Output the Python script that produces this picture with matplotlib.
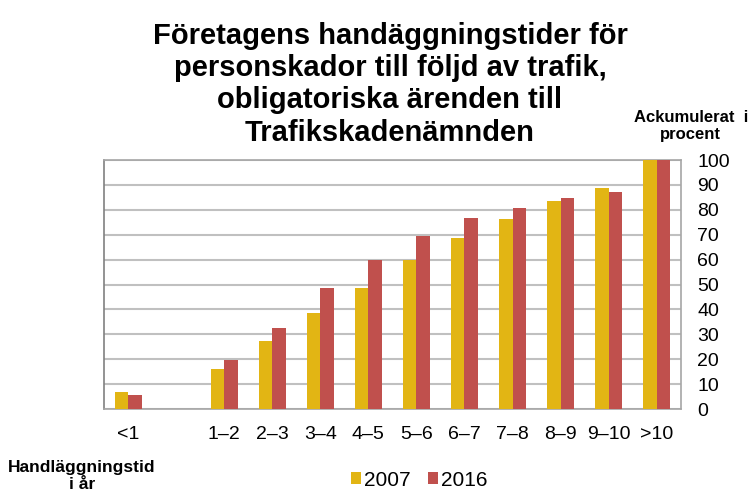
import matplotlib.pyplot as plt
import numpy as np

plt.rcParams['font.family'] = ['Liberation Sans', 'DejaVu Sans']

# kategorier (handläggningstid i år), andra kategorin saknar etikett
kategorier = ['<1', '', '1–2', '2–3', '3–4', '4–5', '5–6', '6–7', '7–8', '8–9', '9–10', '>10']
ar_2007 = [6.8, 0, 16.2, 27.3, 38.7, 48.6, 59.8, 68.7, 76.4, 83.7, 88.8, 100]
ar_2016 = [5.8, 0, 19.7, 32.5, 48.6, 59.8, 69.3, 76.6, 80.7, 84.6, 87.3, 100]
y_ticks = list(range(0, 101, 10))

gul = '#E2B514'
rod = '#C0504D'

fig = plt.figure(figsize=(7.5, 4.91), dpi=100)
ax = fig.add_axes([0.1387, 0.167, 0.769, 0.507])

x = np.arange(len(kategorier))
w = 0.28
ax.bar(x - w / 2, ar_2007, w, color=gul, label='2007', zorder=3)
ax.bar(x + w / 2, ar_2016, w, color=rod, label='2016', zorder=3)

ax.set_xlim(-0.5, len(kategorier) - 0.5)
ax.set_ylim(0, 100)
ax.yaxis.tick_right()
ax.set_yticks(y_ticks)
ax.set_yticklabels([str(v) for v in y_ticks], fontsize=14)
ax.tick_params(axis='y', length=0, pad=12)
ax.set_xticks(x)
ax.set_xticklabels(kategorier, fontsize=14)
ax.tick_params(axis='x', length=0, pad=12)
ax.grid(axis='y', color='#C0C0C0', linewidth=1.5, zorder=0)
for s in ax.spines.values():
    s.set_color('#A6A6A6')
    s.set_linewidth(1.2)
ax.spines['left'].set_color('#808080')

fig.text(0.52, 0.956, 'Företagens handäggningstider för\npersonskador till följd av trafik,\n'
         'obligatoriska ärenden till\nTrafikskadenämnden',
         ha='center', va='top', fontsize=21, fontweight='bold', linespacing=1.2)

fig.text(0.921, 0.743, 'Ackumulerat  i\nprocent', ha='center', va='center',
         fontsize=12, fontweight='bold', linespacing=1.2)
fig.text(0.109, 0.03, 'Handläggningstid\ni år', ha='center', va='center',
         fontsize=12.5, fontweight='bold', linespacing=1.15)

fig.legend(loc='center', bbox_to_anchor=(0.559, 0.022), ncol=2, frameon=False,
           fontsize=15, handlelength=0.5, handleheight=0.5, handletextpad=0.15,
           columnspacing=0.8, borderpad=0)

fig.savefig('out.png', dpi=100)
